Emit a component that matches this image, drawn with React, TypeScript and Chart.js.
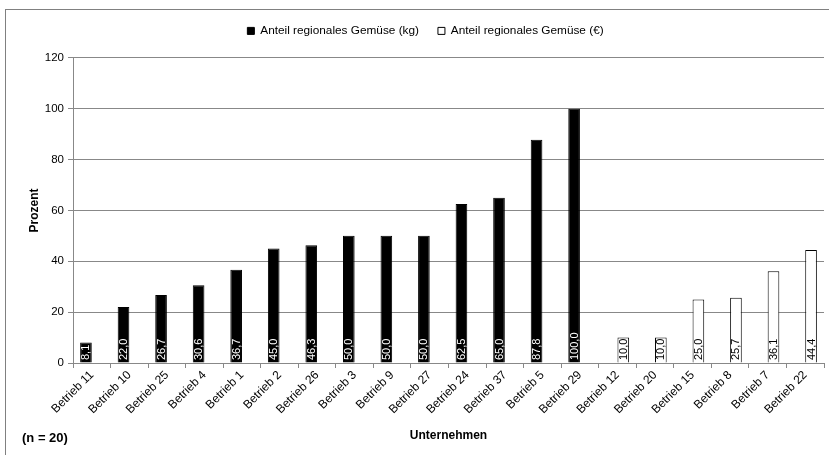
import { useEffect, useRef } from "react";
import { Chart, registerables } from "chart.js";

Chart.register(...registerables);

const categories = [
  "Betrieb 11", "Betrieb 10", "Betrieb 25", "Betrieb 4", "Betrieb 1", "Betrieb 2", "Betrieb 26",
  "Betrieb 3", "Betrieb 9", "Betrieb 27", "Betrieb 24", "Betrieb 37", "Betrieb 5", "Betrieb 29",
  "Betrieb 12", "Betrieb 20", "Betrieb 15", "Betrieb 8", "Betrieb 7", "Betrieb 22",
];

const kgValues: (number | null)[] = [
  8.1, 22.0, 26.7, 30.6, 36.7, 45.0, 46.3, 50.0, 50.0, 50.0, 62.5, 65.0, 87.8, 100.0,
  null, null, null, null, null, null,
];

const euroValues: (number | null)[] = [
  null, null, null, null, null, null, null, null, null, null, null, null, null, null,
  10.0, 10.0, 25.0, 25.7, 36.1, 44.4,
];

const seriesNames = ["Anteil regionales Gemüse (kg)", "Anteil regionales Gemüse (€)"];
const yTickMax = 120;
const yTickStep = 20;
const yTitle = "Prozent";
const xTitle = "Unternehmen";
const noteText = "(n = 20)";

const FONT = "'Liberation Sans', Arial, sans-serif";

const valueLabelPlugin = {
  id: "valueLabels",
  afterDatasetsDraw(chart: any) {
    const ctx = chart.ctx;
    const zeroY = chart.scales.y.getPixelForValue(0);
    chart.data.datasets.forEach((ds: any, di: number) => {
      const meta = chart.getDatasetMeta(di);
      meta.data.forEach((el: any, i: number) => {
        const v = ds.data[i];
        if (v === null || v === undefined) return;
        const label = v.toFixed(1).replace(".", ",");
        ctx.save();
        ctx.beginPath();
        ctx.rect(el.x - el.width / 2, el.y, el.width, zeroY - el.y);
        ctx.clip();
        ctx.translate(el.x, zeroY - 3);
        ctx.rotate(-Math.PI / 2);
        ctx.font = `11px ${FONT}`;
        ctx.fillStyle = di === 0 ? "#ffffff" : "#000000";
        ctx.textAlign = "left";
        ctx.textBaseline = "middle";
        ctx.fillText(label, 0, 0.5);
        ctx.restore();
      });
    });
  },
};

const layoutPlugin = {
  id: "legendSpace",
  afterInit(chart: any) {
    const legend = chart.legend;
    if (!legend) return;
    const origFit = legend.fit.bind(legend);
    legend.fit = function () {
      origFit();
      this.height += 11;
    };
  },
};

const notePlugin = {
  id: "noteText",
  afterDraw(chart: any) {
    const ctx = chart.ctx;
    ctx.save();
    ctx.font = `bold 13px ${FONT}`;
    ctx.fillStyle = "#000";
    ctx.textAlign = "left";
    ctx.textBaseline = "middle";
    ctx.fillText(noteText, 22, 438);
    ctx.restore();
  },
};

export default function App() {
  const canvasRef = useRef<HTMLCanvasElement | null>(null);

  useEffect(() => {
    document.body.style.margin = "0";
    const canvas = canvasRef.current;
    if (!canvas) return;
    const chart = new Chart(canvas, {
      type: "bar",
      data: {
        labels: categories,
        datasets: [
          {
            label: seriesNames[0],
            data: kgValues,
            backgroundColor: "#000000",
            borderColor: "#000000",
            borderWidth: 1,
            categoryPercentage: 0.62,
            barPercentage: 1,
          },
          {
            label: seriesNames[1],
            data: euroValues,
            backgroundColor: "#ffffff",
            borderColor: "#000000",
            borderWidth: 1,
            categoryPercentage: 0.62,
            barPercentage: 1,
          },
        ],
      },
      options: {
        animation: false,
        responsive: true,
        maintainAspectRatio: false,
        layout: { padding: { left: 27, right: 5, top: 6, bottom: 12 } },
        plugins: {
          legend: {
            position: "top",
            labels: {
              boxWidth: 7,
              boxHeight: 7,
              padding: 19,
              color: "#000",
              font: { family: FONT, size: 11.8 },
            },
          },
          tooltip: { enabled: false },
        },
        scales: {
          x: {
            afterFit(scale: any) {
              scale.height = 80;
            },
            grid: {
              offset: true,
              drawOnChartArea: false,
              drawTicks: true,
              tickLength: 5,
              color: "#888888",
            },
            border: { color: "#888888" },
            ticks: {
              color: "#000",
              font: { family: FONT, size: 12 },
              minRotation: 45,
              maxRotation: 45,
              autoSkip: false,
              padding: 0,
            },
            title: {
              display: true,
              text: xTitle,
              color: "#000",
              font: { family: FONT, size: 12, weight: "bold" },
              padding: { top: 4, bottom: 0 },
            },
          },
          y: {
            min: 0,
            max: yTickMax,
            afterFit(scale: any) {
              scale.width = 46;
            },
            ticks: {
              stepSize: yTickStep,
              color: "#000",
              font: { family: FONT, size: 11.5 },
              padding: 4,
            },
            grid: { color: "#888888", tickLength: 5 },
            border: { color: "#888888" },
            title: {
              display: true,
              text: yTitle,
              color: "#000",
              font: { family: FONT, size: 12, weight: "bold" },
              padding: { top: 0, bottom: 10 },
            },
          },
        },
      },
      plugins: [layoutPlugin, valueLabelPlugin, notePlugin],
    });
    return () => chart.destroy();
  }, []);

  return (
    <div style={{ position: "absolute", left: 0, top: 0, width: 829, height: 455, background: "#fff" }}>
      <div
        style={{
          position: "absolute",
          left: 5,
          top: 9,
          width: 840,
          height: 460,
          borderLeft: "1px solid #808080",
          borderTop: "1px solid #808080",
        }}
      />
      <div style={{ position: "absolute", left: 0, top: 0, width: 829, height: 455 }}>
        <canvas ref={canvasRef} />
      </div>
    </div>
  );
}
